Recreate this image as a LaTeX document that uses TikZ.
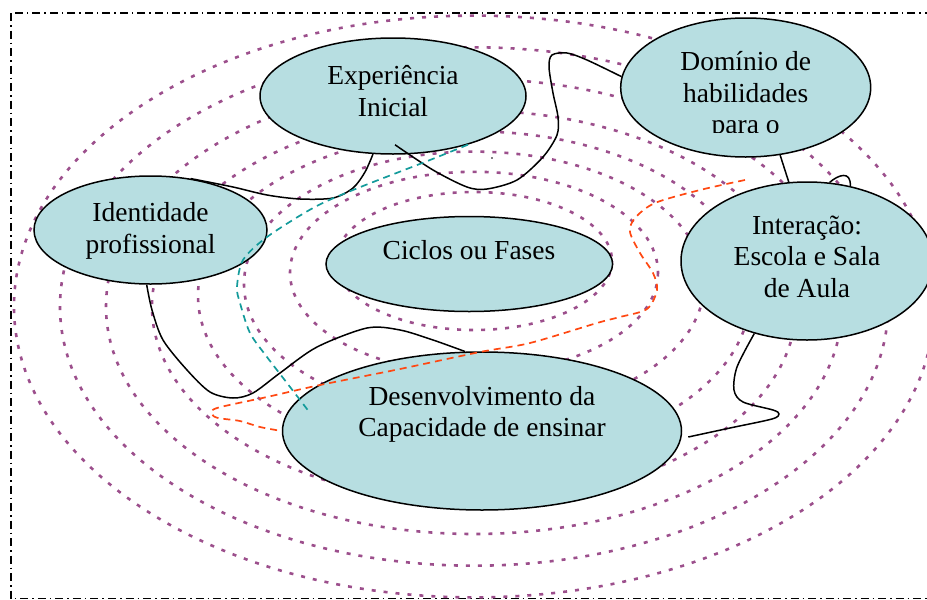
\documentclass[tikz,border=0pt]{standalone}
\usepackage{fontspec}
\setmainfont{Liberation Serif}
\usetikzlibrary{shapes.geometric}
\definecolor{ringc}{RGB}{156,79,140}
\definecolor{bubc}{RGB}{183,222,225}
\definecolor{tealc}{RGB}{20,155,155}
\definecolor{redc}{RGB}{255,72,18}
\begin{document}
\begin{tikzpicture}[x=0.5pt,y=-0.5pt,
  ring/.style={draw=ringc, line width=1.3pt, dash pattern=on 2pt off 4pt},
  bubble/.style={ellipse, draw=black, line width=0.75pt, fill=bubc, inner sep=0pt},
  link/.style={draw=black, line width=0.75pt},
  tealline/.style={draw=tealc, line width=0.85pt, dash pattern=on 3.5pt off 2.5pt},
  redline/.style={draw=redc, line width=0.85pt, dash pattern=on 3.5pt off 2.5pt},
  frameline/.style={draw=black, line width=0.6pt, dash pattern=on 4pt off 2pt on 0.75pt off 2pt},
  lbl/.style={align=center, font=\fontsize{13.75}{15.75}\selectfont, inner sep=0pt, text=black}]
\useasboundingbox (0,0) rectangle (927,600);
\begin{scope}
\clip (0,0) rectangle (927,600);
% frame
\draw[frameline] (11,13) rectangle (945,598.5);
% concentric dotted rings
\draw[ring] (474,261)   ellipse [x radius=138, y radius=69];
\draw[ring] (474,272.5) ellipse [x radius=184, y radius=100.7];
\draw[ring] (474,284)   ellipse [x radius=230, y radius=132.4];
\draw[ring] (474,295.5) ellipse [x radius=276, y radius=164.1];
\draw[ring] (474,306.5) ellipse [x radius=322, y radius=195.8];
\draw[ring] (474,306.5) ellipse [x radius=368, y radius=227.5];
\draw[ring] (474,306.5) ellipse [x radius=414, y radius=259.2];
\draw[ring] (474,306.5) ellipse [x radius=460, y radius=290.9];
% bubbles
\node[bubble, minimum width=133pt, minimum height=58pt]   (exp)   at (393,96) {};
\node[bubble, minimum width=125pt, minimum height=69.5pt] (dom)   at (745.7,87.5) {};
\node[bubble, minimum width=116.5pt, minimum height=54pt] (ident) at (150.5,230) {};
\node[bubble, minimum width=143.3pt, minimum height=47.5pt] (cic) at (469.3,264) {};
\node[bubble, minimum width=126pt, minimum height=79pt]   (int)   at (807,261) {};
\node[bubble, minimum width=199.5pt, minimum height=79pt] (dev)   at (482,431) {};
% connectors
\draw[link] plot[smooth] coordinates {(ident.52) (233,187) (267,195) (300,199) (333,198) (353,188) (365,172) (exp.251)};
\draw[link] plot[smooth] coordinates {([shift={(2,-10)}]exp.south) (433,170) (467,187) (487,189) (517,180) (543,157) (557,135) (558,117) (553,93) (549,67) (552,55) (567,53) (587,60) (dom.175)};
\draw[link] (dom.297) -- (int.103);
\draw[link] (int.74) .. controls (838,175) and (851,170) .. (int.60);
\draw[link] plot[smooth] coordinates {(int.234) (737,367) (734,390) (743,402) (773,410) (779,414) (772,419) (730,428) ([shift={(6,6)}]dev.east)};
\draw[link] plot[smooth] coordinates {(ident.266) (152,310) (163,340) (187,370) (210,392) (233,398) (253,393) (280,373) (317,347) (367,328) (400,330) (433,340) (dev.102)};
\draw[tealline] plot[smooth] coordinates {(exp.327) (430,160) (353,190) (313,208) (267,237) (243,260) (237,287) (240,303) (250,333) (267,357) (287,383) ([shift={(26,-21)}]dev.west)};
\coordinate (redstart) at (745,180);
\draw[redline] plot[smooth] coordinates {(redstart) (700,190) (655,203) (635,218) (630,232) (640,253) (653,273) (657,290) (647,309) (620,317) (597,323) (530,343) (480,352) (400,369) (320,385) (267,397) (217,408) (212,414) (218,418) (240,421) (260,427) (dev.west)};
\fill (492,158) circle (0.8);
% texts (anchor=base is the baseline of the last line)
\node[lbl, anchor=base] (expT) at (393,116) {Experiência\\Inicial};
\node[lbl, anchor=base] (identT) at (150.5,253) {Identidade\\profissional};
\node[lbl, anchor=base] (cicT) at (469,259.5) {Ciclos ou Fases};
\node[lbl, anchor=base] (intT) at (807,297.3) {Interação:\\Escola e Sala\\de Aula};
\node[lbl, anchor=base] (devT) at (482,436.7) {Desenvolvimento da\\Capacidade de ensinar};
\begin{scope}
\clip (620,18) rectangle (871,132.5);
\node[lbl, anchor=base] (domT) at (745.7,133.5) {Domínio de\\habilidades\\para o};
\end{scope}
\end{scope}
\end{tikzpicture}
\end{document}
